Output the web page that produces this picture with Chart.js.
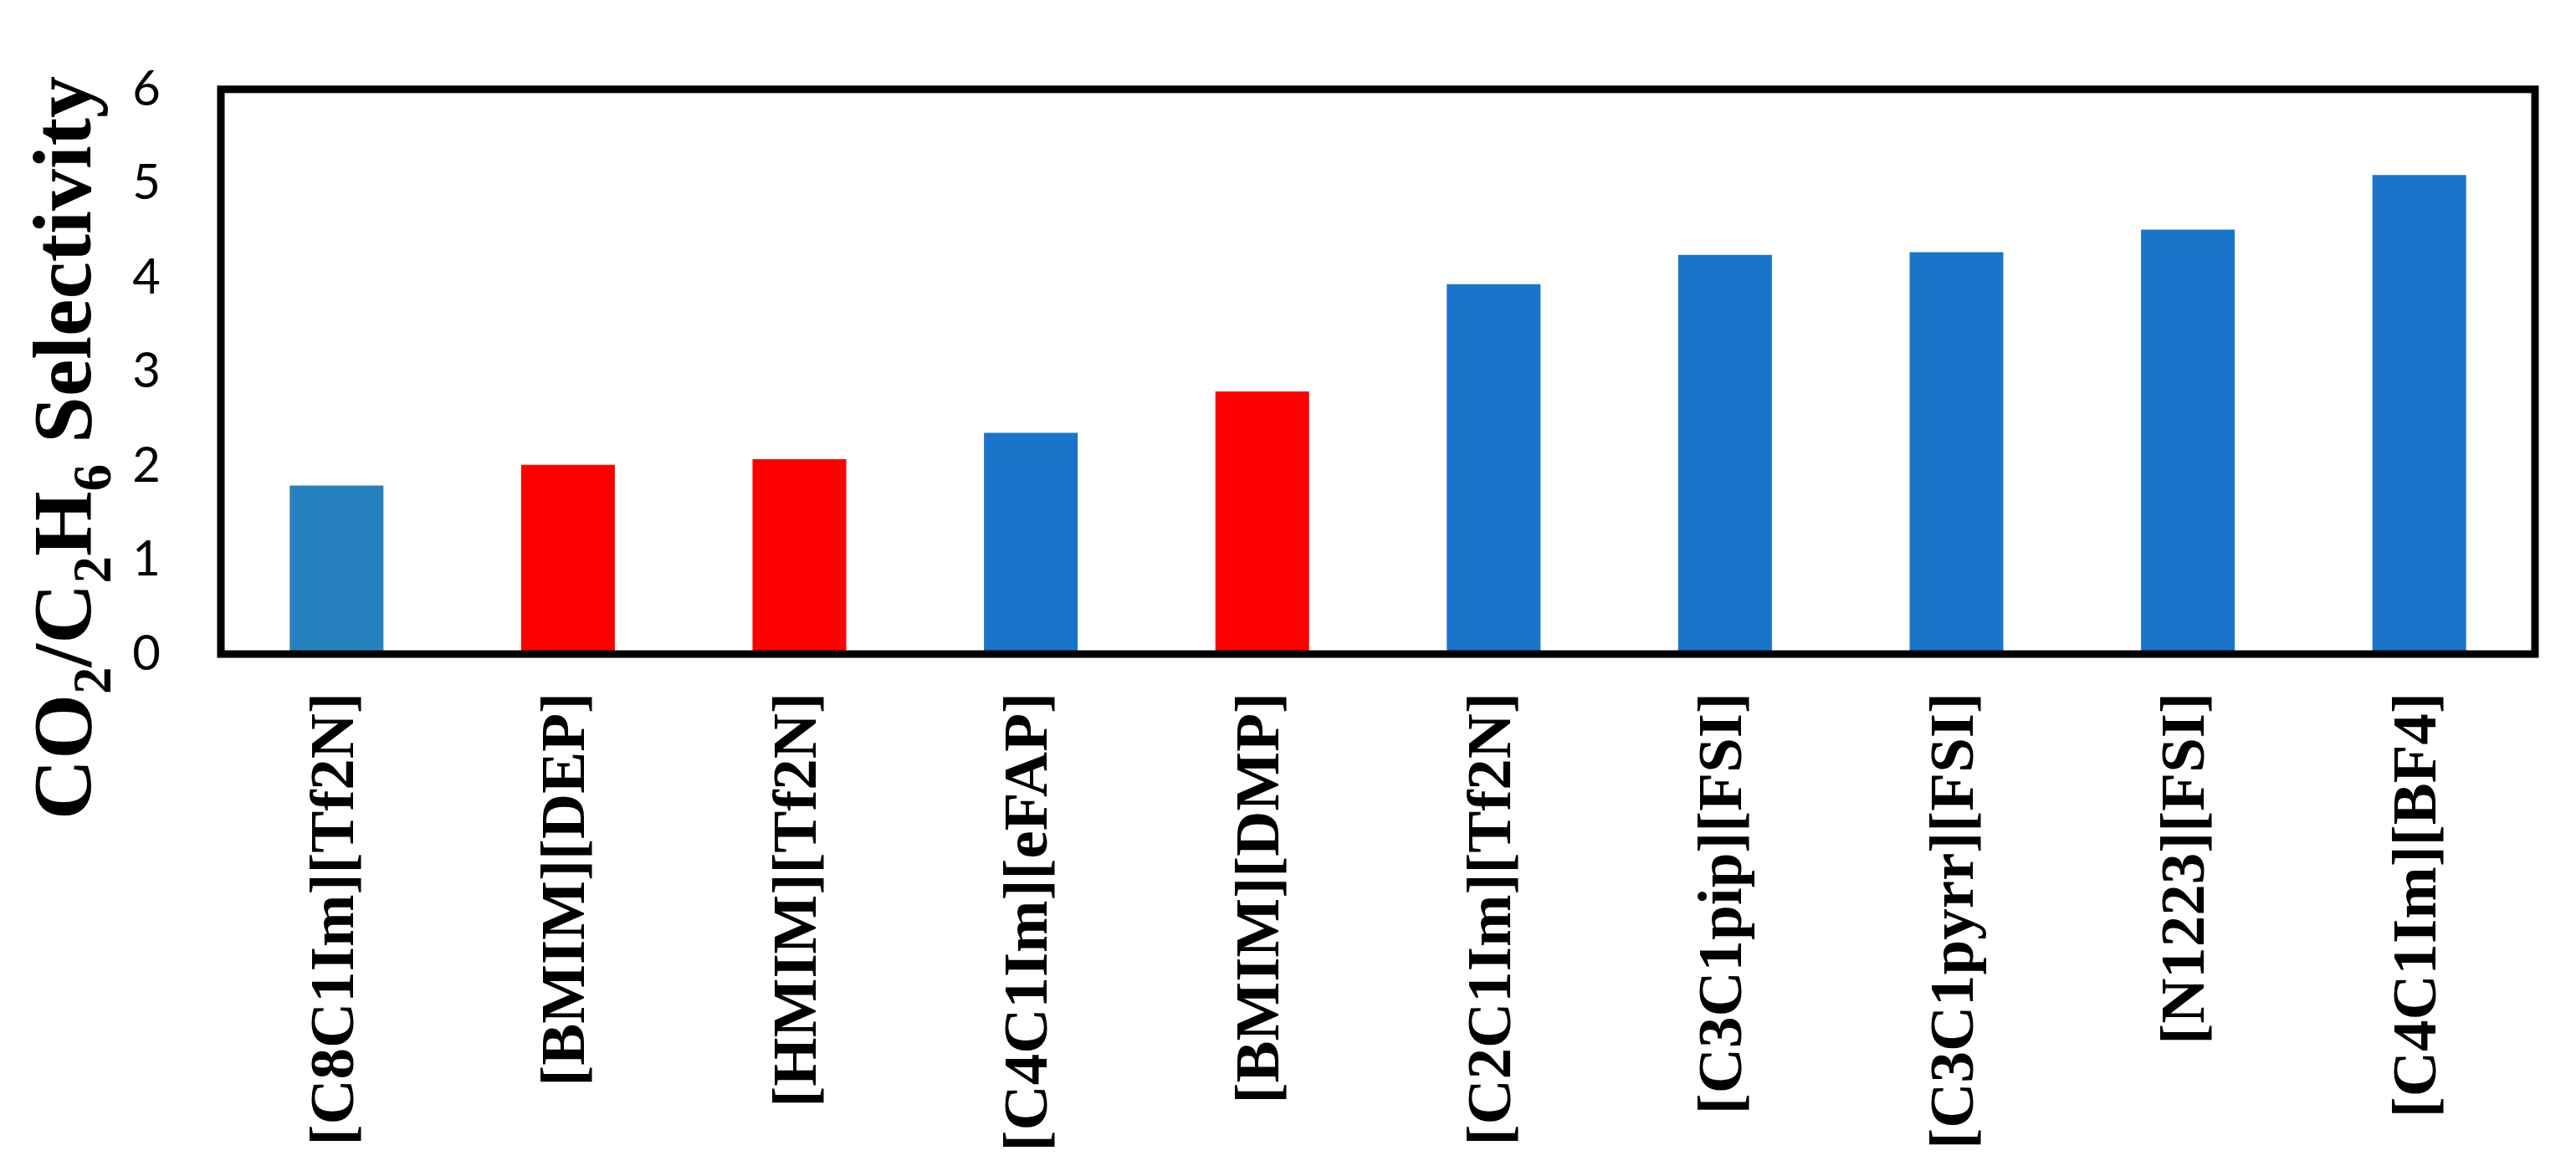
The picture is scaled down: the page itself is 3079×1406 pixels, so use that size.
<!DOCTYPE html>
<html>
<head>
<meta charset="utf-8">
<script src="https://cdn.jsdelivr.net/npm/chart.js@4/dist/chart.umd.min.js"></script>
<style>
  html, body { margin: 0; padding: 0; background: #fff; }
  #wrap { width: 3079px; height: 1406px; }
</style>
</head>
<body>
<div id="wrap"><canvas id="selectivityChart" width="3079" height="1406"></canvas></div>
<script>
const ionicLiquids = [
    '[C8C1Im][Tf2N]', '[BMIM][DEP]', '[HMIM][Tf2N]', '[C4C1Im][eFAP]', '[BMIM][DMP]',
    '[C2C1Im][Tf2N]', '[C3C1pip][FSI]', '[C3C1pyrr][FSI]', '[N1223][FSI]', '[C4C1Im][BF4]'
];
const selectivity = [1.79, 2.01, 2.07, 2.35, 2.79, 3.93, 4.24, 4.27, 4.51, 5.09];
const barColors = [
    '#2682BF', '#FF0000', '#FF0000', '#1A74C9', '#FF0000',
    '#1A74C9', '#1A74C9', '#1A74C9', '#1A74C9', '#1A74C9'
];
const yTicks = [0, 1, 2, 3, 4, 5, 6];

// y title pieces: [text, isSubscript]
const yTitleParts = [
    ['CO', false], ['2', true], ['/C', false], ['2', true],
    ['H', false], ['6', true], [' Selectivity', false]
];

const serif = '"Liberation Serif", "Times New Roman", serif';

// black box round the plot area + the rotated y title with subscripts
const frameAndTitle = {
    id: 'frameAndTitle',
    afterDatasetsDraw(chart) {
        const ctx = chart.ctx;
        const a = chart.chartArea;
        ctx.save();
        ctx.strokeStyle = '#000';
        ctx.lineWidth = 9;
        ctx.strokeRect(a.left, a.top, a.right - a.left, a.bottom - a.top);
        ctx.restore();

        ctx.save();
        ctx.translate(a.left - 156, 980);
        ctx.rotate(-Math.PI / 2);
        ctx.fillStyle = '#000';
        ctx.textBaseline = 'alphabetic';
        let x = 0;
        yTitleParts.forEach(([txt, sub]) => {
            ctx.font = sub ? `bold 65px ${serif}` : `bold 100px ${serif}`;
            ctx.fillText(txt, x, sub ? 24 : 0);
            x += ctx.measureText(txt).width;
        });
        ctx.restore();
    }
};

new Chart(document.getElementById('selectivityChart').getContext('2d'), {
    type: 'bar',
    data: {
        labels: ionicLiquids,
        datasets: [{
            data: selectivity,
            backgroundColor: barColors,
            borderWidth: 0,
            barPercentage: 0.405,
            categoryPercentage: 1.0
        }]
    },
    options: {
        responsive: false,
        animation: false,
        devicePixelRatio: 1,
        layout: { padding: { top: 76, right: 49, left: 0, bottom: 0 } },
        plugins: {
            legend: { display: false },
            tooltip: { enabled: false }
        },
        scales: {
            x: {
                grid: { display: false, drawTicks: false },
                border: { display: false },
                ticks: {
                    autoSkip: false,
                    minRotation: 90,
                    maxRotation: 90,
                    padding: 46,
                    color: '#000',
                    font: { family: serif, size: 75, weight: 'bold' }
                },
                afterFit(scale) { scale.height = 1406 - 782; }
            },
            y: {
                min: 0,
                max: 6,
                grid: { display: false, drawTicks: false },
                border: { display: false },
                afterBuildTicks(scale) { scale.ticks = yTicks.map(v => ({ value: v })); },
                ticks: {
                    stepSize: 1,
                    padding: 72,
                    color: '#000',
                    font: { family: 'Lato, "Open Sans", sans-serif', size: 58 }
                },
                afterFit(scale) { scale.width = 264; }
            }
        }
    },
    plugins: [frameAndTitle]
});
</script>
</body>
</html>
